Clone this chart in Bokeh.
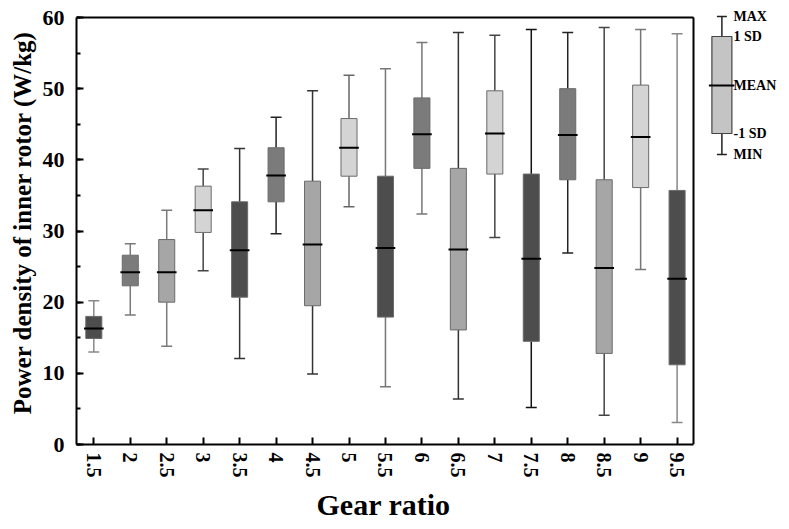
import numpy as np
from bokeh.plotting import figure
from bokeh.models import FixedTicker, SingleIntervalTicker, CustomJSTickFormatter, Range1d, ColumnDataSource, Label, Title
from bokeh.embed import file_html
from bokeh.resources import INLINE

# ---- data ----
gear = [1.5, 2, 2.5, 3, 3.5, 4, 4.5, 5, 5.5, 6, 6.5, 7, 7.5, 8, 8.5, 9, 9.5]
max_v = [20.2, 28.2, 32.9, 38.7, 41.6, 46.0, 49.7, 51.9, 52.8, 56.5, 57.9, 57.5, 58.3, 57.9, 58.6, 58.3, 57.7]
sd_hi = [18.0, 26.6, 28.8, 36.3, 34.1, 41.7, 37.0, 45.8, 37.7, 48.7, 38.8, 49.7, 38.0, 50.0, 37.2, 50.5, 35.7]
mean_v = [16.3, 24.2, 24.2, 32.9, 27.3, 37.8, 28.1, 41.7, 27.6, 43.6, 27.4, 43.7, 26.1, 43.5, 24.8, 43.2, 23.3]
sd_lo = [14.9, 22.3, 20.0, 29.8, 20.7, 34.1, 19.5, 37.7, 17.9, 38.8, 16.1, 38.0, 14.5, 37.2, 12.8, 36.1, 11.2]
min_v = [13.0, 18.2, 13.8, 24.4, 12.1, 29.6, 9.9, 33.4, 8.1, 32.4, 6.4, 29.1, 5.2, 26.9, 4.1, 24.6, 3.1]
tick_labels = ["1.5", "2", "2.5", "3", "3.5", "4", "4.5", "5", "5.5", "6", "6.5", "7", "7.5", "8", "8.5", "9", "9.5"]
key_labels = ["MAX", "1 SD", "MEAN", "-1 SD", "MIN"]

# ---- styles ----
palette = ["#4d4d4d", "#7b7b7b", "#a6a6a6", "#d4d4d4"]
fills = [palette[i % 4] for i in range(len(gear))]
whisk_col = ["#888888", "#7a7a7a", "#7a7a7a", "#444444", "#333333", "#222222", "#333333",
             "#666666", "#777777", "#777777", "#333333", "#444444", "#111111", "#222222",
             "#444444", "#777777", "#888888"]
FONT = "Liberation Serif"
BOX_W, MEAN_W, CAP_W = 0.22, 0.27, 0.15

# layout in pixels
W, H = 789, 529
FL, FR, FT, FB = 76, 693, 17, 444      # visible plotting box
X0, X1 = 1.2625, 9.725                   # data x at box left/right
Y0, Y1 = 0.0, 60.0                       # data y at box bottom/top
sx = (FR - FL) / (X1 - X0)
sy = (FB - FT) / (Y1 - Y0)
x_end = X1 + (W - FR) / sx
y_end = Y1 + FT / sy

g = np.array(gear, dtype=float)
src = ColumnDataSource(dict(
    x=g, top=sd_hi, bottom=sd_lo, mx=max_v, mn=min_v, mean=mean_v,
    fill=fills, wc=whisk_col,
    mx0=g - MEAN_W / 2, mx1=g + MEAN_W / 2,
    cx0=g - CAP_W / 2, cx1=g + CAP_W / 2,
))

p = figure(width=W, height=H, output_backend="svg", toolbar_location=None,
           x_range=Range1d(X0, x_end), y_range=Range1d(Y0, y_end),
           min_border_left=FL, min_border_right=0, min_border_top=0, min_border_bottom=H - FB,
           background_fill_color="white", border_fill_color="white")
p.grid.visible = False
p.outline_line_color = None
p.extra_x_ranges = {"px": Range1d(FL, W)}
p.extra_y_ranges = {"px": Range1d(FB, 0)}

# top and right edges of the box
p.segment(x0=[FL, FR], y0=[FT, FT], x1=[FR, FR], y1=[FT, FB],
          x_range_name="px", y_range_name="px", line_color="black", line_width=2)

# whiskers
p.segment(x0="x", y0="top", x1="x", y1="mx", source=src, line_color="wc", line_width=1.5)
p.segment(x0="x", y0="bottom", x1="x", y1="mn", source=src, line_color="wc", line_width=1.5)
p.segment(x0="cx0", y0="mx", x1="cx1", y1="mx", source=src, line_color="wc", line_width=1.5)
p.segment(x0="cx0", y0="mn", x1="cx1", y1="mn", source=src, line_color="wc", line_width=1.5)
# boxes
p.vbar(x="x", top="top", bottom="bottom", width=BOX_W, source=src,
       fill_color="fill", line_color="#6a6a6a", line_width=1)
# mean line
p.segment(x0="mx0", y0="mean", x1="mx1", y1="mean", source=src, line_color="black", line_width=2)

# axes
p.xaxis.ticker = FixedTicker(ticks=gear, minor_ticks=[])
p.xaxis.formatter = CustomJSTickFormatter(code="return String(tick)")
p.xaxis.major_label_orientation = "vertical"
p.xaxis.bounds = (X0, X1)
p.yaxis.ticker = SingleIntervalTicker(interval=10, num_minor_ticks=2)
p.yaxis.bounds = (Y0, Y1)
for ax in (p.xaxis[0], p.yaxis[0]):
    ax.axis_line_width = 2
    ax.axis_line_color = "black"
    ax.major_tick_in = 7
    ax.major_tick_out = 0
    ax.minor_tick_in = 4
    ax.minor_tick_out = 0
    ax.major_tick_line_width = 2
    ax.minor_tick_line_width = 2
    ax.major_label_text_font = FONT
    ax.major_label_text_font_style = "bold"
    ax.major_label_text_color = "black"
    ax.axis_label_text_font = FONT
    ax.axis_label_text_font_style = "bold"
    ax.axis_label_text_color = "black"
p.xaxis.major_label_text_font_size = "20px"
p.yaxis.major_label_text_font_size = "22px"
p.yaxis.axis_label = "Power density of inner rotor (W/kg)"
p.yaxis.axis_label_text_font_size = "25px"
p.xaxis.major_label_standoff = 8
p.yaxis.major_label_standoff = 12
p.yaxis.axis_label_standoff = 4

# x-axis title, centred under the visible box (not the whole frame)
p.add_layout(Title(text="Gear ratio", align="left", offset=240, standoff=10,
                   text_font=FONT, text_font_style="bold", text_font_size="30px",
                   text_color="black"), "below")

# ---- legend key (pixel coordinates on the "px" ranges) ----
key_x = 721.4
key_y = [16, 36, 85, 133, 154]   # MAX, +1SD, MEAN, -1SD, MIN
kw = dict(x_range_name="px", y_range_name="px")
p.segment(x0=[key_x, key_x], y0=[key_y[0], key_y[3]],
          x1=[key_x, key_x], y1=[key_y[1], key_y[4]], line_color="#222222", line_width=1.5, **kw)
p.segment(x0=[key_x - 5, key_x - 5], y0=[key_y[0], key_y[4]],
          x1=[key_x + 5, key_x + 5], y1=[key_y[0], key_y[4]], line_color="#222222", line_width=1.5, **kw)
p.quad(left=[key_x - 10], right=[key_x + 10], top=[key_y[1]], bottom=[key_y[3]],
       fill_color="#c4c4c4", line_color="#444444", line_width=1.2, **kw)
p.segment(x0=[key_x - 13], y0=[key_y[2]], x1=[key_x + 12.5], y1=[key_y[2]],
          line_color="black", line_width=2, **kw)
for txt, yy in zip(key_labels, key_y):
    p.add_layout(Label(x=733, y=yy, text=txt, text_font=FONT, text_font_style="bold",
                       text_font_size="14px", text_baseline="middle", text_align="left",
                       text_color="black", **kw))

open("out.html", "w").write(file_html(p, INLINE))
